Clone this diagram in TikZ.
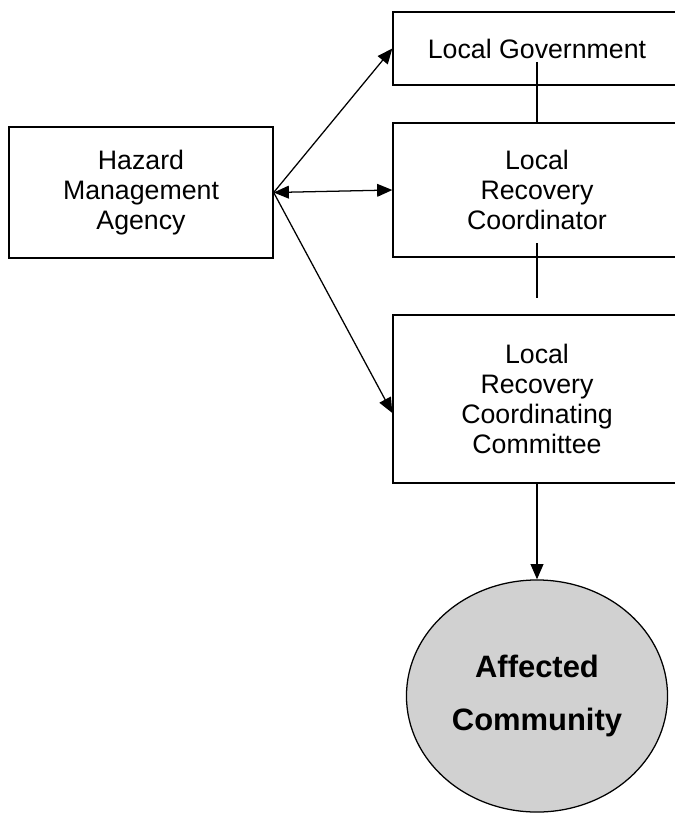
\documentclass[tikz,border=0pt]{standalone}
\usepackage{fontspec}
\setmainfont{Liberation Sans}
\usetikzlibrary{arrows.meta,shapes.geometric}
\begin{document}
\begin{tikzpicture}
  [x=0.025cm,y=-0.025cm,line width=0.9pt,
   every node/.style={draw, rectangle, align=center, inner sep=0pt, font=\fontsize{19}{21.3}\selectfont},
   tip/.style={-{Triangle[length=0.38cm,width=0.32cm]}},
   tips/.style={{Triangle[length=0.38cm,width=0.32cm]}-{Triangle[length=0.38cm,width=0.32cm]}}]
  \useasboundingbox (0,0) rectangle (675,814);

  \node[minimum width=6.6cm, minimum height=3.275cm] (hma) at (141,192.5) {Hazard\\Management\\Agency};
  \node[minimum width=7.2cm, minimum height=1.825cm] (lg) at (537,48.5) {Local Government};
  \node[minimum width=7.2cm, minimum height=3.35cm] (lrc) at (537,190) {Local\\Recovery\\Coordinator};
  \node[minimum width=7.2cm, minimum height=4.2cm] (lrcc) at (537,399) {Local\\Recovery\\Coordinating\\Committee};
  \node[ellipse, fill=black!18, minimum width=6.525cm, minimum height=5.8cm,
        font=\fontsize{22}{37.6}\selectfont\bfseries] (ac) at (537,696) {Affected\\Community};

  \coordinate (lgline) at (537,62);
  \coordinate (lrcline) at (537,243);
  \coordinate (lrccgap) at (537,298);
  \coordinate (lrccin) at ([yshift=-0.35cm]lrcc.west);

  \foreach \from/\to in {hma.east/lg.west, hma.east/lrccin, lrcc.south/ac.north}
    \draw (\from) edge[tip] (\to);
  \draw (hma.east) edge[tips] (lrc.west);

  \foreach \from/\to in {lgline/lrc.north, lrcline/lrccgap}
    \draw (\from) -- (\to);
\end{tikzpicture}
\end{document}
